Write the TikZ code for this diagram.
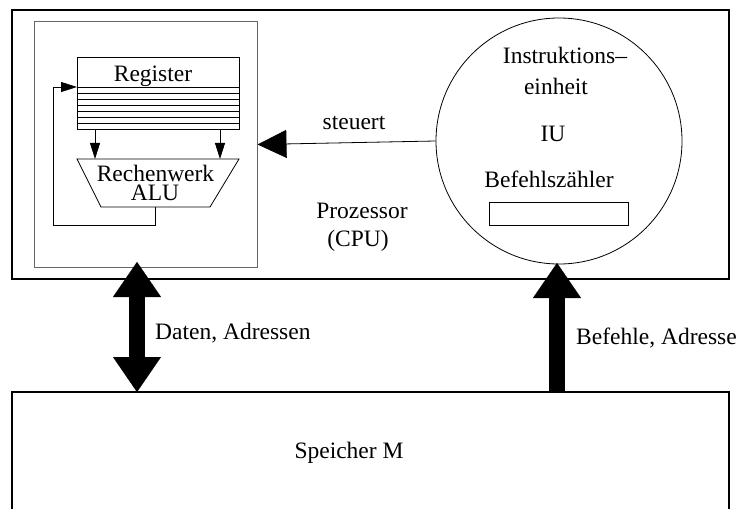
\documentclass[tikz,border=0pt]{standalone}
\usepackage{fontspec}
\setmainfont{Liberation Serif}
\usetikzlibrary{arrows.meta}
\begin{document}
\begin{tikzpicture}[x=1bp,y=-1bp,
  lbl/.style={font=\fontsize{23.5bp}{28bp}\selectfont, inner sep=0pt, anchor=base},
  thickbox/.style={draw=black, line width=1.8bp},
  grayline/.style={draw=black!60, line width=1bp},
  thinline/.style={draw=black, line width=0.8bp},
  smallhead/.style={-{Triangle[length=16bp,width=10bp]}},
  bigshaft/.style={line width=16bp, draw=black},
  bigdouble/.style={{Triangle[length=35bp,width=48bp,line width=0.01bp]}-{Triangle[length=35bp,width=48bp,line width=0.01bp]}},
  bigsingle/.style={-{Triangle[length=35bp,width=48bp,line width=0.01bp]}}
]
\useasboundingbox (0,0) rectangle (737,509);

% processor box
\node[thickbox, minimum width=717bp, minimum height=269bp, inner sep=0pt] (cpu) at (370.5,144.5) {};
% inner box (register + ALU)
\node[grayline, minimum width=222bp, minimum height=245bp, inner sep=0pt] (core) at (146,144.5) {};

% register
\node[thinline, minimum width=162bp, minimum height=72bp, inner sep=0pt] (reg) at (158,93) {};
\foreach \yy in {87,93,99,105,111,117,123}
  \draw[thinline] (77,\yy) -- (239,\yy);
\node[lbl] (regtxt) at (153,82) {Register};

% ALU trapezoid
\coordinate (aluTL) at (77,159);
\coordinate (aluTR) at (239,159);
\coordinate (aluBR) at (210,207);
\coordinate (aluBL) at (101,207);
\draw[thinline] (aluTL) -- (aluTR) -- (aluBR) -- (aluBL) -- cycle;
\node[lbl] (alutxt1) at (155.5,182) {Rechenwerk};
\node[lbl] (alutxt2) at (155,200.5) {ALU};

% arrows register -> ALU
\coordinate (r1) at (95,129);
\coordinate (a1) at (95,159);
\coordinate (r2) at (220,129);
\coordinate (a2) at (220,159);
\draw[thinline, smallhead] (r1) -- (a1);
\draw[thinline, smallhead] (r2) -- (a2);

% feedback loop
\coordinate (aluout) at (155,207);
\coordinate (loop1) at (155,225);
\coordinate (loop2) at (53,225);
\coordinate (loop3) at (53,87);
\coordinate (regin) at (77,87);
\draw[thinline, smallhead] (aluout) -- (loop1) -- (loop2) -- (loop3) -- (regin);

% instruction unit
\node[circle, thinline, minimum size=246bp, inner sep=0pt] (iu) at (559,141) {};
\node[lbl] (iut1) at (565,64) {Instruktions--};
\node[lbl] (iut2) at (556,95) {einheit};
\node[lbl] (iut3) at (553,142) {IU};
\node[lbl] (iut4) at (549,188) {Befehlsz\"ahler};
\node[thinline, minimum width=139bp, minimum height=23bp, inner sep=0pt] (pc) at (558.5,213.5) {};

% steuert
\draw[thinline, -{Triangle[length=29bp,width=28bp]}] (iu.west) -- (core.east);
\node[lbl] (steuert) at (354,130) {steuert};

\node[lbl] (proz) at (362,219) {Prozessor};
\node[lbl] (cpulbl) at (358,247) {(CPU)};

% memory
\coordinate (memTL) at (12,392);
\coordinate (memTR) at (729,392);
\coordinate (memBL) at (12,509);
\coordinate (memBR) at (729,509);
\draw[thickbox] (memBL) -- (memTL) -- (memTR) -- (memBR);
\node[lbl] (mem) at (349,458) {Speicher M};

% bus arrows
\coordinate (dTop) at (137,262);
\coordinate (dBot) at (137,392);
\draw[bigshaft, bigdouble] (dBot) -- (dTop);
\node[lbl, anchor=base west] (dlbl) at (155,339) {Daten, Adressen};

\coordinate (bTop) at (557,263);
\coordinate (bBot) at (557,392);
\draw[bigshaft, bigsingle] (bBot) -- (bTop);
\node[lbl, anchor=base west] (blbl) at (576,344) {Befehle, Adressen};
\end{tikzpicture}
\end{document}
